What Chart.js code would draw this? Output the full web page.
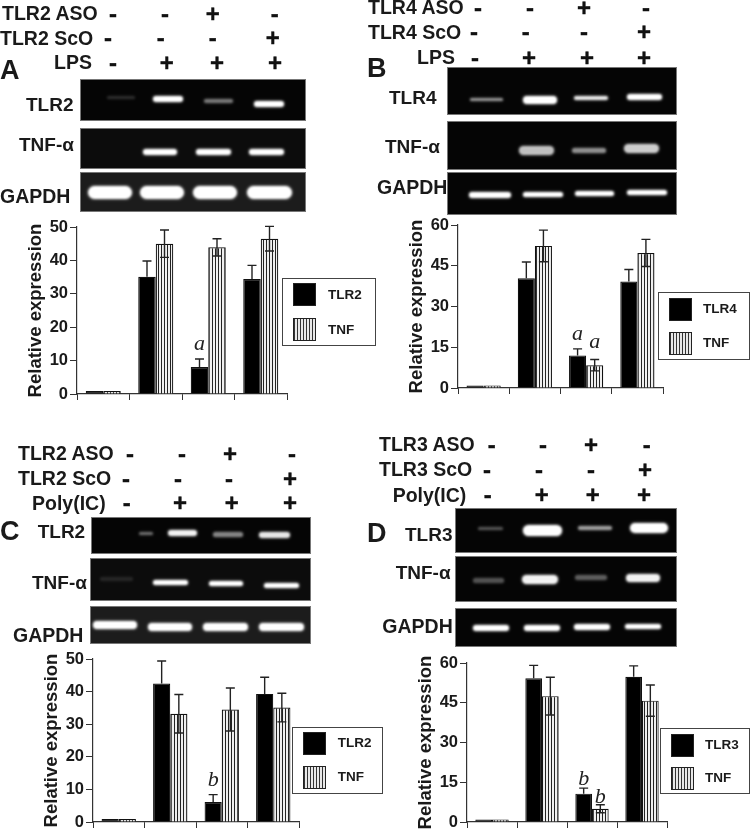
<!DOCTYPE html>
<html>
<head>
<meta charset="utf-8">
<title>TLR knockdown</title>
<script src="https://cdn.jsdelivr.net/npm/chart.js@4"></script>
<style>
html, body { margin: 0; padding: 0; background: #fff; }
#fig { position: relative; width: 750px; height: 830px; overflow: hidden; filter: blur(0.4px);
       font-family: "Liberation Sans", Arial, sans-serif; font-weight: bold; color: #1a1a1a; }
#fig canvas { position: absolute; }
.t { position: absolute; white-space: nowrap; transform: translateY(-50%); line-height: 1; }
.s { position: absolute; transform: translate(-50%, -50%); line-height: 1; font-size: 24px; color: #111; -webkit-text-stroke: 0.4px #111; }
.gel { position: absolute; background: #050505; box-shadow: 0 0 0 1px #777; overflow: hidden; }
.band { position: absolute; background: #fff; border-radius: 7px; filter: blur(0.9px); box-shadow: 0 0 3px rgba(255, 255, 255, 0.55); }
.box { position: absolute; border: 1.5px solid #444; box-sizing: border-box; }
.sw { position: absolute; box-sizing: border-box; border: 1px solid #222; background: #000; }
.sw.h { background: repeating-linear-gradient(90deg, #333 0 1px, #e8e8e8 1px 3px); }
</style>
</head>
<body>
<div id="fig"></div>
<script>
// values
var categories = ['Control', 'Stimulus', 'ASO + stimulus', 'ScO + stimulus'];

var tlr2A = [0.9, 35.1, 8.1, 34.4];
var tnfA = [0.9, 45, 43.9, 46.5];
var tlr2AErr = [0, 4.7, 2.4, 4.1];
var tnfAErr = [0, 4.1, 2.6, 3.7];

var tlr4B = [0.9, 40.4, 12, 39.2];
var tnfB = [0.9, 52.3, 8.4, 49.7];
var tlr4BErr = [0, 6, 2.4, 4.4];
var tnfBErr = [0, 5.8, 2.1, 5];

var tlr2C = [0.9, 42.5, 6.1, 39.3];
var tnfC = [0.9, 33.2, 34.5, 35.1];
var tlr2CErr = [0, 6.9, 2.3, 5.1];
var tnfCErr = [0, 5.9, 6.6, 4.4];

var tlr3D = [0.9, 54.2, 10.7, 54.8];
var tnfD = [0.9, 47.5, 5, 45.8];
var tlr3DErr = [0, 4.9, 2.1, 4.1];
var tnfDErr = [0, 7.1, 1.5, 5.9];

var ticksAC = [0, 10, 20, 30, 40, 50];
var ticksBD = [0, 15, 30, 45, 60];

var fig = document.getElementById('fig');

function text(str, x, cy, size) {
    var el = document.createElement('div');
    el.className = 't';
    el.textContent = str;
    el.style.left = x + 'px';
    el.style.top = cy + 'px';
    el.style.fontSize = size + 'px';
    fig.appendChild(el);
}

// one row of +/- signs under the header labels
function signs(str, xs, cy) {
    str.split('').forEach(function (c, i) {
        var el = document.createElement('div');
        el.className = 's';
        el.textContent = c;
        el.style.left = xs[i] + 'px';
        el.style.top = cy + 'px';
        fig.appendChild(el);
    });
}

function gel(x0, x1, y0, y1, bands, bg) {
    var g = document.createElement('div');
    g.className = 'gel';
    g.style.cssText = 'left:' + x0 + 'px;top:' + y0 + 'px;width:' + (x1 - x0) + 'px;height:' + (y1 - y0) + 'px';
    if (bg) g.style.background = bg;
    bands.forEach(function (b) {
        var el = document.createElement('div');
        el.className = 'band';
        el.style.cssText = 'left:' + (b[0] - x0) + 'px;top:' + (b[2] - b[3] / 2 - y0) + 'px;width:' + (b[1] - b[0]) +
            'px;height:' + b[3] + 'px;opacity:' + b[4];
        g.appendChild(el);
    });
    fig.appendChild(g);
}

function legendBox(l, r, t, b, swX, sw1, sw2, txtX, txt1, txt2, name) {
    var box = document.createElement('div');
    box.className = 'box';
    box.style.cssText = 'left:' + l + 'px;top:' + t + 'px;width:' + (r - l) + 'px;height:' + (b - t) + 'px';
    fig.appendChild(box);
    [[sw1, ''], [sw2, ' h']].forEach(function (s) {
        var el = document.createElement('div');
        el.className = 'sw' + s[1];
        el.style.cssText = 'left:' + swX + 'px;top:' + s[0] + 'px;width:23px;height:23px';
        fig.appendChild(el);
    });
    text(name, txtX, txt1, 13.5);
    text('TNF', txtX, txt2, 13.5);
}

// Panel A header and gels
text('TLR2 ASO', 2, 14, 19.5);
text('TLR2 ScO', 0, 38.7, 19.5);
text('LPS', 54, 63, 19.5);
text('A', 0, 70, 27);
signs('--+-', [113, 165, 212.7, 274.7], 13.5);
signs('---+', [108, 160.7, 212.7, 272.7], 38);
signs('-+++', [113, 166.7, 217, 275], 63);
text('TLR2', 26, 104, 19);
text('TNF-α', 19, 144, 19);
text('GAPDH', 0, 197, 19.5);
gel(81, 305, 80, 120, [[107, 135, 97.5, 3, .15], [153, 183, 99, 6, 1], [204, 233, 100.5, 4, .45], [254, 284, 104, 6, 1]]);
gel(81, 305, 129, 168, [[143, 177, 152, 6, 1], [196, 231, 152, 6, 1], [249, 284, 152, 6, 1]], '#0c0c0c');
gel(81, 305, 173, 211, [[88, 132, 192, 13, 1], [140, 184, 192, 13, 1], [193, 237, 192, 13, 1], [247, 292, 192, 13, 1]], '#1c1c1c');

// Panel B
text('TLR4 ASO', 368, 8, 19.5);
text('TLR4 ScO', 368, 33, 19.5);
text('LPS', 417, 58, 19.5);
text('B', 367, 68, 27);
signs('--+-', [478, 530, 584, 646], 8);
signs('---+', [474, 525.7, 584, 644], 32);
signs('-+++', [475, 529, 587, 644], 58);
text('TLR4', 389, 96.7, 19);
text('TNF-α', 385, 146, 19);
text('GAPDH', 377, 188, 19.5);
gel(447.7, 675.7, 68.3, 113.7, [[470, 503, 100, 3, .55], [523, 557, 100.5, 8, 1], [574, 608, 97.7, 4, .9], [627, 662, 97, 6.5, 1]]);
gel(447.7, 675.7, 122.3, 169, [[519, 554, 151, 9, .75], [572, 606, 150.7, 5, .55], [624, 659, 148.7, 9, .8]]);
gel(447.7, 675.7, 172.7, 214, [[469, 511, 195, 6, 1], [523, 563, 195, 5, 1], [575, 614, 194, 5, 1], [627, 667, 192.7, 5, 1]]);

// Panel C
text('TLR2 ASO', 18, 454, 19.5);
text('TLR2 ScO', 18, 479, 19.5);
text('Poly(IC)', 32, 504, 19.5);
text('C', 0, 531, 27);
signs('--+-', [130, 182, 230, 292], 454);
signs('---+', [126, 178, 229, 290], 479);
signs('-+++', [126.7, 180, 231.7, 290], 503);
text('TLR2', 37.7, 531, 19);
text('TNF-α', 32, 581.7, 19);
text('GAPDH', 13, 635.7, 19.5);
gel(92.3, 310, 517.7, 553.3, [[139, 153, 533.3, 3, .4], [168, 197, 533.3, 6, .95], [213, 243, 534.3, 5, .5], [259, 290, 534.7, 6, .9]]);
gel(90.7, 310, 559, 600, [[100, 133, 579, 4, .1], [153, 188, 582.3, 5, 1], [209, 243, 583.7, 5, 1], [264, 299, 585.7, 5, 1]], '#0c0c0c');
gel(90.7, 310, 607.3, 643.3, [[93, 137, 625.3, 8, 1], [148, 192, 626.7, 8, 1], [203, 248, 626.7, 8, 1], [259, 304, 627, 8, 1]], '#1c1c1c');

// Panel D
text('TLR3 ASO', 379, 445, 19.5);
text('TLR3 ScO', 379, 470, 19.5);
text('Poly(IC)', 392.7, 495.7, 19.5);
text('D', 367, 533, 27);
signs('--+-', [491.7, 543, 591, 646.7], 445);
signs('---+', [487, 539, 591, 645], 470);
signs('-+++', [487.7, 541.7, 592.7, 644], 495);
text('TLR3', 405, 534.3, 19);
text('TNF-α', 395.7, 571.7, 19);
text('GAPDH', 382.3, 626.7, 19.5);
gel(456, 675.7, 509, 552, [[478, 503, 528.7, 3, .3], [523, 562, 530, 11, 1], [578, 612, 528, 4.5, .6], [630, 668, 528.3, 10, 1]]);
gel(456, 675.7, 557.3, 601, [[473, 504, 580.3, 4.5, .3], [522, 558, 579.7, 9, .95], [575, 607, 578, 5, .35], [626, 660, 577.7, 8, .95]]);
gel(456, 675.7, 609.3, 645.7, [[473, 509, 628, 6, 1], [524, 560, 627.7, 6, 1], [574, 610, 627, 6, 1], [625, 661, 626.7, 4.5, 1]]);

// legends
legendBox(281.7, 376, 277.7, 346, 293, 283.3, 318, 328, 295, 330, 'TLR2');
legendBox(657.7, 750, 292.3, 360, 669, 298.3, 332.3, 703, 309.3, 343.3, 'TLR4');
legendBox(292.3, 383.5, 726.7, 794.3, 303.3, 732.3, 766, 337.7, 743.3, 777.3, 'TLR2');
legendBox(660, 750, 728.3, 794.3, 671, 734, 767.3, 705, 745, 777.7, 'TLR3');

function stripes() {
    var c = document.createElement('canvas');
    c.width = 3;
    c.height = 3;
    var p = c.getContext('2d');
    p.fillStyle = '#efefef';
    p.fillRect(0, 0, 3, 3);
    p.fillStyle = '#222';
    p.fillRect(0, 0, 1, 3);
    return p.createPattern(c, 'repeat');
}

// error bars and the a/b letters, placed with the chart's own scales
var errorBars = {
    id: 'errorBars',
    afterDatasetsDraw: function (chart, args, opts) {
        var ctx = chart.ctx, y = chart.scales.y;
        ctx.save();
        ctx.strokeStyle = '#222';
        ctx.lineWidth = 1.4;
        chart.data.datasets.forEach(function (ds, d) {
            chart.getDatasetMeta(d).data.forEach(function (bar, i) {
                var e = ds.err[i];
                if (!e) return;
                var top = y.getPixelForValue(ds.data[i] + e);
                var low = y.getPixelForValue(ds.data[i] - e);
                ctx.beginPath();
                ctx.moveTo(bar.x - 4.5, top);
                ctx.lineTo(bar.x + 4.5, top);
                ctx.moveTo(bar.x, top);
                // lower half would not show on the black bars
                if (d === 1) {
                    ctx.lineTo(bar.x, low);
                    ctx.moveTo(bar.x - 4.5, low);
                    ctx.lineTo(bar.x + 4.5, low);
                } else {
                    ctx.lineTo(bar.x, y.getPixelForValue(ds.data[i]));
                }
                ctx.stroke();
            });
        });
        ctx.fillStyle = '#222';
        ctx.font = 'italic 22px "Liberation Serif"';
        ctx.textAlign = 'center';
        ctx.textBaseline = 'alphabetic';
        opts.marks.forEach(function (m) {
            var ds = chart.data.datasets[m[0]];
            var bar = chart.getDatasetMeta(m[0]).data[2];
            ctx.fillText(m[1], bar.x, y.getPixelForValue(ds.data[2] + ds.err[2]) - m[2]);
        });
        ctx.restore();
    }
};

function panel(plot, name, v1, e1, v2, e2, tickList, marks) {
    var padL = 60, padT = 12, padR = 6, padB = 12;
    var canvas = document.createElement('canvas');
    canvas.width = plot.r - plot.l + padL + padR;
    canvas.height = plot.b - plot.t + padT + padB;
    canvas.style.left = (plot.l - padL) + 'px';
    canvas.style.top = (plot.t - padT) + 'px';
    fig.appendChild(canvas);
    new Chart(canvas.getContext('2d'), {
        type: 'bar',
        data: {
            labels: categories,
            datasets: [
                { label: name, data: v1, err: e1, backgroundColor: '#000', borderColor: '#111', borderWidth: 1.2 },
                { label: 'TNF', data: v2, err: e2, backgroundColor: stripes(), borderColor: '#111', borderWidth: 1.2 }
            ]
        },
        options: {
            responsive: false,
            animation: false,
            devicePixelRatio: 1,
            layout: { padding: { top: padT, right: padR, left: 0, bottom: 0 } },
            datasets: { bar: { categoryPercentage: 0.667, barPercentage: 1 } },
            plugins: {
                legend: { display: false },
                tooltip: { enabled: false },
                errorBars: { marks: marks }
            },
            scales: {
                x: {
                    afterFit: function (s) { s.height = padB; },
                    ticks: { display: false },
                    grid: { offset: true, drawOnChartArea: false, tickLength: 6, color: '#333' },
                    border: { color: '#333', width: 1.2 }
                },
                y: {
                    min: 0,
                    max: tickList[tickList.length - 1],
                    afterFit: function (s) { s.width = padL; },
                    afterBuildTicks: function (s) {
                        s.ticks = tickList.map(function (v) { return { value: v }; });
                    },
                    ticks: { color: '#1a1a1a', padding: 2, font: { family: 'Liberation Sans', size: 16.5, weight: 'bold' } },
                    grid: { drawOnChartArea: false, tickLength: 7, color: '#333' },
                    border: { color: '#333', width: 1.2 },
                    title: {
                        display: true,
                        text: 'Relative expression',
                        color: '#1a1a1a',
                        padding: { top: 8, bottom: 0 },
                        font: { family: 'Liberation Sans', size: 18.5, weight: 'bold' }
                    }
                }
            }
        },
        plugins: [errorBars]
    });
}

panel({ l: 77, r: 287, t: 226.7, b: 393.7 }, 'TLR2', tlr2A, tlr2AErr, tnfA, tnfAErr, ticksAC, [[0, 'a', 9]]);
panel({ l: 458.3, r: 664.3, t: 225, b: 388.3 }, 'TLR4', tlr4B, tlr4BErr, tnfB, tnfBErr, ticksBD, [[0, 'a', 9], [1, 'a', 11]]);
panel({ l: 92.7, r: 299, t: 659.3, b: 822.3 }, 'TLR2', tlr2C, tlr2CErr, tnfC, tnfCErr, ticksAC, [[0, 'b', 9]]);
panel({ l: 466.7, r: 666.7, t: 662.7, b: 821.7 }, 'TLR3', tlr3D, tlr3DErr, tnfD, tnfDErr, ticksBD, [[0, 'b', 3], [1, 'b', 2]]);
</script>
</body>
</html>
